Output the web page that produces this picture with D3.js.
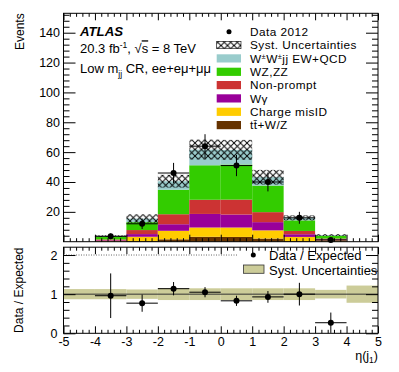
<!DOCTYPE html>
<html><head><meta charset="utf-8">
<script src="https://cdn.jsdelivr.net/npm/d3@7"></script>
<style>
body{margin:0;background:#fff}
text{font-family:"Liberation Sans",Arial,Helvetica,sans-serif;fill:#000}
</style>
</head><body>
<svg id="c" width="399" height="372"></svg>
<script>
// ---- data ----
const binEdges = [-5,-4,-3,-2,-1,0,1,2,3,4,5];
const ttV       = [0, 0.3, 0.5, 1.6, 3.3, 3.2, 2.1, 0.5, 0.3, 0];
const misID     = [0, 0.2, 2.8, 5.7, 6.2, 6.3, 5.5, 2.7, 0.6, 0];
const wGamma    = [0, 0.4, 1.8, 4.4, 9.1, 8.7, 5.5, 1.8, 0.6, 0];
const nonPrompt = [0, 0.6, 2.7, 6.7, 9.5, 10.0, 6.7, 2.2, 0.6, 0];
const wzzz      = [0, 2.0, 5.3, 16.4, 23.1, 23.5, 17.8, 7.1, 1.9, 0];
const wwjj      = [0, 0.3, 2.4, 5.7, 10.5, 9.8, 5.6, 1.7, 0.4, 0];
const systUnc   = [0, 0.5, 2.8, 4.3, 6.7, 6.7, 4.9, 1.7, 0.6, 0];
const dataVals  = [null, 3.6, 12, 46, 64, 51, 40, 16, 1.2, null];
const dataErr   = [null, 1.9, 3.5, 6.8, 8.0, 7.1, 6.3, 4.0, 1.1, null];
const ratioVals = [null, 0.96, 0.77, 1.14, 1.05, 0.83, 0.93, 1.0, 0.27, null];
const ratioErr  = [null, 0.57, 0.22, 0.17, 0.13, 0.13, 0.15, 0.29, 0.26, null];
const ratioBand = [0.13, 0.13, 0.12, 0.15, 0.15, 0.15, 0.15, 0.15, 0.11, 0.22];
const topTicks  = [20, 40, 60, 80, 100, 120, 140];
const botTicks  = [0, 1, 2];
const xTicks    = [-5,-4,-3,-2,-1,0,1,2,3,4,5];

const components = [
  {name:"ttV", vals:ttV, color:"#663300"},
  {name:"misID", vals:misID, color:"#ffcc00"},
  {name:"wg", vals:wGamma, color:"#990099"},
  {name:"np", vals:nonPrompt, color:"#cc3333"},
  {name:"wz", vals:wzzz, color:"#33cc00"},
  {name:"ww", vals:wwjj, color:"#99cccc"}
];

const svg = d3.select("#c");
const x = d3.scaleLinear().domain([-5,5]).range([63.5,378]);
const yT = d3.scaleLinear().domain([0,153]).range([241.7,13.3]);
const yB = d3.scaleLinear().domain([0,2.2]).range([333.3,247.2]);

// hatch pattern
const defs = svg.append("defs");
const pat = defs.append("pattern").attr("id","hatch").attr("patternUnits","userSpaceOnUse")
  .attr("width",6.5).attr("height",6.5);
pat.append("path").attr("d","M0,0L6.5,6.5M0,6.5L6.5,0").attr("stroke","#000").attr("stroke-width",0.95).attr("fill","none");

const bins = d3.range(10).map(i => ({i, x0:binEdges[i], x1:binEdges[i+1]}));

// ---- top panel stack ----
const stackG = svg.append("g");
bins.forEach(b => {
  let cum = 0;
  components.forEach(c => {
    const v = c.vals[b.i];
    if (v > 0) {
      stackG.append("rect").attr("x", x(b.x0)).attr("width", x(b.x1)-x(b.x0))
        .attr("y", yT(cum+v)).attr("height", yT(cum)-yT(cum+v)).attr("fill", c.color);
    }
    cum += v;
  });
  b.total = cum;
});
// hatch
bins.forEach(b => {
  if (b.total > 0) {
    const u = systUnc[b.i];
    svg.append("rect").attr("x", x(b.x0)).attr("width", x(b.x1)-x(b.x0))
      .attr("y", yT(b.total+u)).attr("height", yT(b.total-u)-yT(b.total+u))
      .attr("fill","url(#hatch)");
  }
});
// data
const dG = svg.append("g");
bins.forEach(b => {
  const v = dataVals[b.i]; if (v == null) return;
  const cx = x((b.x0+b.x1)/2), cy = yT(v);
  dG.append("line").attr("x1",x(b.x0)).attr("x2",x(b.x1)).attr("y1",cy).attr("y2",cy).attr("stroke","#000");
  dG.append("line").attr("x1",cx).attr("x2",cx).attr("y1",yT(v+dataErr[b.i])).attr("y2",yT(Math.max(0,v-dataErr[b.i]))).attr("stroke","#000");
  dG.append("circle").attr("cx",cx).attr("cy",cy).attr("r",3).attr("fill","#000");
});

// ---- axes helper ----
function axes(yScale, yMajor, yMinor, labels, top, bottom, xLabels, yPad) {
  const g = svg.append("g");
  g.append("g").attr("transform",`translate(${x(-5)},0)`)
    .call(d3.axisLeft(yScale).tickValues(yMajor).tickSize(-12).tickSizeOuter(0).tickPadding(yPad).tickFormat(labels ? (d=>String(d)) : ""));
  g.append("g").attr("transform",`translate(${x(-5)},0)`)
    .call(d3.axisLeft(yScale).tickValues(yMinor).tickSize(-6).tickSizeOuter(0).tickFormat(""));
  g.append("g").attr("transform",`translate(${x(5)},0)`)
    .call(d3.axisRight(yScale).tickValues(yMajor).tickSize(-12).tickSizeOuter(0).tickFormat(""));
  g.append("g").attr("transform",`translate(${x(5)},0)`)
    .call(d3.axisRight(yScale).tickValues(yMinor).tickSize(-6).tickSizeOuter(0).tickFormat(""));
  const xMinor = d3.range(-50,51,2).map(d=>d/10).filter(d=>Math.abs(d-Math.round(d))>1e-6);
  g.append("g").attr("transform",`translate(0,${bottom})`)
    .call(d3.axisBottom(x).tickValues(xTicks).tickSize(-7).tickSizeOuter(0).tickPadding(3.5).tickFormat(xLabels ? (d=>String(d)) : ""));
  g.append("g").attr("transform",`translate(0,${bottom})`)
    .call(d3.axisBottom(x).tickValues(xMinor).tickSize(-3.5).tickSizeOuter(0).tickFormat(""));
  g.append("g").attr("transform",`translate(0,${top})`)
    .call(d3.axisTop(x).tickValues(xTicks).tickSize(-7).tickSizeOuter(0).tickFormat(""));
  g.append("g").attr("transform",`translate(0,${top})`)
    .call(d3.axisTop(x).tickValues(xMinor).tickSize(-3.5).tickSizeOuter(0).tickFormat(""));
  g.selectAll("path.domain").remove();
  g.selectAll("line").attr("stroke","#000");
  g.selectAll("text").attr("font-size","12.5px").attr("font-family","Liberation Sans, Arial, sans-serif");
  g.append("rect").attr("x",x(-5)).attr("y",top).attr("width",x(5)-x(-5)).attr("height",bottom-top)
    .attr("fill","none").attr("stroke","#000");
}
const yMinorTop = d3.range(0,153,4).filter(d => d % 20 !== 0);
axes(yT, topTicks, yMinorTop, true, yT(153), yT(0), false, 3.5);

// ---- ratio panel ----
bins.forEach(b => {
  const h = ratioBand[b.i];
  svg.append("rect").attr("x",x(b.x0)).attr("width",x(b.x1)-x(b.x0))
    .attr("y",yB(1+h)).attr("height",yB(1-h)-yB(1+h)).attr("fill","#cccc99");
});
svg.append("line").attr("x1",x(-5)).attr("x2",x(5)).attr("y1",yB(1)).attr("y2",yB(1)).attr("stroke","#333").attr("stroke-width",1);
svg.append("line").attr("x1",x(-5)).attr("x2",x(5)).attr("y1",yB(2)).attr("y2",yB(2)).attr("stroke","#000").attr("stroke-width",0.6).attr("stroke-dasharray","1,1.5");
const rG = svg.append("g");
bins.forEach(b => {
  const v = ratioVals[b.i]; if (v == null) return;
  const cx = x((b.x0+b.x1)/2), cy = yB(v);
  rG.append("line").attr("x1",x(b.x0)).attr("x2",x(b.x1)).attr("y1",cy).attr("y2",cy).attr("stroke","#000");
  rG.append("line").attr("x1",cx).attr("x2",cx).attr("y1",yB(v+ratioErr[b.i])).attr("y2",yB(Math.max(0,v-ratioErr[b.i]))).attr("stroke","#000");
  rG.append("circle").attr("cx",cx).attr("cy",cy).attr("r",3).attr("fill","#000");
});
// ratio legend
svg.append("rect").attr("x",238).attr("y",249).attr("width",139).attr("height",29).attr("fill","#fff");
svg.append("circle").attr("cx",253.3).attr("cy",255).attr("r",2.5).attr("fill","#000");
svg.append("text").attr("x",269).attr("y",259.5).attr("font-size","13px").text("Data / Expected");
svg.append("rect").attr("x",243.5).attr("y",265).attr("width",20.5).attr("height",8.3).attr("fill","#cccc99").attr("stroke","#333").attr("stroke-width",0.8);
svg.append("text").attr("x",269).attr("y",274.5).attr("font-size","13px").text("Syst. Uncertainties");

const yMinorBot = d3.range(0,22,2).map(d=>d/10).filter(d => Math.abs(d-Math.round(d))>1e-6);
axes(yB, botTicks, yMinorBot, true, yB(2.2), yB(0), true, 6);

// ---- top legend ----
const legY = [31.7, 45, 58.3, 71.7, 85, 98.3, 111.7, 125];
const L = svg.append("g");
L.append("circle").attr("cx",229).attr("cy",legY[0]).attr("r",2.5).attr("fill","#000");
L.append("rect").attr("x",216.7).attr("y",legY[1]-3.7).attr("width",24.3).attr("height",7.4).attr("fill","url(#hatch)").attr("stroke","#000").attr("stroke-width",0.6);
const legOrder = [components[5],components[4],components[3],components[2],components[1],components[0]];
legOrder.forEach((c,k) => {
  L.append("rect").attr("x",216.7).attr("y",legY[k+2]-4).attr("width",24.3).attr("height",8.2).attr("fill",c.color);
});
function legText(k) {
  return L.append("text").attr("x",250).attr("y",legY[k]+4.4)
    .attr("font-size","11.8px").attr("letter-spacing","0.45px");
}
legText(0).text("Data 2012");
legText(1).text("Syst. Uncertainties");
{ const t = legText(2); t.append("tspan").text("W");
  t.append("tspan").attr("font-size","7.5px").attr("dy",-4).text("±");
  t.append("tspan").attr("dy",4).text("W");
  t.append("tspan").attr("font-size","7.5px").attr("dy",-4).text("±");
  t.append("tspan").attr("dy",4).text("jj EW+QCD"); }
legText(3).text("WZ,ZZ");
legText(4).text("Non-prompt");
legText(5).text("Wγ");
legText(6).text("Charge misID");
legText(7).text("tt\u0304+W/Z");

// ---- ATLAS label ----
svg.append("text").attr("x",80).attr("y",36).attr("font-size","13.2px").attr("font-weight","bold").attr("font-style","italic").text("ATLAS");
{ const t = svg.append("text").attr("x",80).attr("y",53.3).attr("font-size","13px");
  t.append("tspan").text("20.3 fb");
  t.append("tspan").attr("font-size","8.5px").attr("dy",-5).text("-1");
  t.append("tspan").attr("dy",5).text(", \u221A");
  t.append("tspan").attr("text-decoration","overline").text("s");
  t.append("tspan").text(" = 8 TeV"); }
{ const t = svg.append("text").attr("x",80).attr("y",73).attr("font-size","13px");
  t.append("tspan").text("Low m");
  t.append("tspan").attr("font-size","8.5px").attr("dy",3.5).text("jj");
  t.append("tspan").attr("dy",-3.5).text(" CR, ee+e\u03BC+\u03BC\u03BC"); }

// ---- axis titles ----
svg.append("text").attr("transform","translate(24,13.3) rotate(-90)").attr("text-anchor","end").attr("font-size","12px").text("Events");
svg.append("text").attr("transform","translate(22.5,247.5) rotate(-90)").attr("text-anchor","end").attr("font-size","12px").text("Data / Expected");
{ const t = svg.append("text").attr("x",378).attr("y",360).attr("text-anchor","end").attr("font-size","12.5px");
  t.append("tspan").text("\u03B7(j");
  t.append("tspan").attr("font-size","8.5px").attr("dy",3).text("1");
  t.append("tspan").attr("dy",-3).text(")"); }
</script>
</body></html>
